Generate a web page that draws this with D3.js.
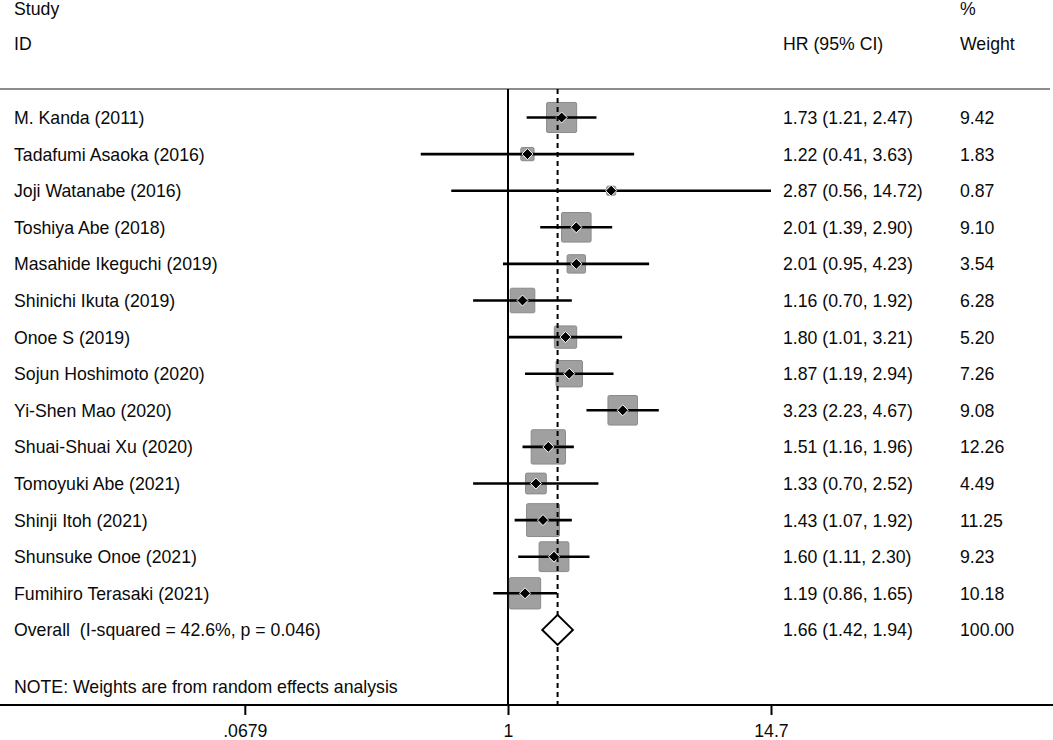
<!DOCTYPE html>
<html>
<head>
<meta charset="utf-8">
<script src="https://cdn.jsdelivr.net/npm/d3@7"></script>
<style>
  html, body { margin: 0; padding: 0; background: #fff; }
  svg text { font-family: "Liberation Sans", Arial, sans-serif; font-size: 17.7px; fill: #0a0a0a; white-space: pre; }
</style>
</head>
<body>
<svg id="chart" width="1053" height="740"></svg>
<script>
const studies = ["M. Kanda (2011)", "Tadafumi Asaoka (2016)", "Joji Watanabe (2016)", "Toshiya Abe (2018)",
  "Masahide Ikeguchi (2019)", "Shinichi Ikuta (2019)", "Onoe S (2019)", "Sojun Hoshimoto (2020)",
  "Yi-Shen Mao (2020)", "Shuai-Shuai Xu (2020)", "Tomoyuki Abe (2021)", "Shinji Itoh (2021)",
  "Shunsuke Onoe (2021)", "Fumihiro Terasaki (2021)"];
const hr     = [1.73, 1.22, 2.87, 2.01, 2.01, 1.16, 1.80, 1.87, 3.23, 1.51, 1.33, 1.43, 1.60, 1.19];
const lower  = [1.21, 0.41, 0.56, 1.39, 0.95, 0.70, 1.01, 1.19, 2.23, 1.16, 0.70, 1.07, 1.11, 0.86];
const upper  = [2.47, 3.63, 14.72, 2.90, 4.23, 1.92, 3.21, 2.94, 4.67, 1.96, 2.52, 1.92, 2.30, 1.65];
const weights = [9.42, 1.83, 0.87, 9.10, 3.54, 6.28, 5.20, 7.26, 9.08, 12.26, 4.49, 11.25, 9.23, 10.18];
const overallLabel = "Overall  (I-squared = 42.6%, p = 0.046)";
const overall = { hr: 1.66, lower: 1.42, upper: 1.94, weight: "100.00" };
const noteText = "NOTE: Weights are from random effects analysis";
const tickValues = [0.0679, 1, 14.7];
const tickLabels = [".0679", "1", "14.7"];

const svg = d3.select("#chart");
const x = d3.scaleLog().domain([1 / 14.7, 14.7]).range([245, 771]);
const rowY = d3.scaleLinear().domain([0, 1]).range([117.5, 154.1]);
const topLineY = 89, axisY = 705;
const colHR = 783, colW = 960, colLabel = 14;

const fmt = v => v.toFixed(2);

// headers
svg.append("text").attr("x", colLabel).attr("y", 15).text("Study");
svg.append("text").attr("x", colLabel).attr("y", 50).text("ID");
svg.append("text").attr("x", colHR).attr("y", 50).text("HR (95% CI)");
svg.append("text").attr("x", colW).attr("y", 15).text("%");
svg.append("text").attr("x", colW).attr("y", 50).text("Weight");

// top separator
svg.append("line").attr("x1", 0).attr("x2", 1050).attr("y1", topLineY).attr("y2", topLineY)
  .attr("stroke", "#8c8c8c").attr("stroke-width", 2);

// null line
svg.append("line").attr("x1", x(1)).attr("x2", x(1)).attr("y1", topLineY).attr("y2", axisY)
  .attr("stroke", "#000").attr("stroke-width", 2);

// boxes
const rows = studies.map((s, i) => ({ s, hr: hr[i], lo: lower[i], hi: upper[i], w: weights[i], i }));
const g = svg.append("g");
g.selectAll("rect.box").data(rows).join("rect").attr("class", "box")
  .attr("x", d => x(d.hr) - 4.9 * Math.sqrt(d.w))
  .attr("y", d => rowY(d.i) - 4.9 * Math.sqrt(d.w))
  .attr("width", d => 9.8 * Math.sqrt(d.w))
  .attr("height", d => 9.8 * Math.sqrt(d.w))
  .attr("rx", 1.5)
  .attr("fill", "#a0a0a0").attr("stroke", "#8a8a8a").attr("stroke-width", 1);

// overall dashed line
svg.append("line").attr("x1", x(overall.hr)).attr("x2", x(overall.hr)).attr("y1", topLineY).attr("y2", axisY)
  .attr("stroke", "#000").attr("stroke-width", 2).attr("stroke-dasharray", "5,4");

// CI lines
g.selectAll("line.ci").data(rows).join("line").attr("class", "ci")
  .attr("x1", d => x(d.lo)).attr("x2", d => x(Math.min(d.hi, 14.7)))
  .attr("y1", d => rowY(d.i)).attr("y2", d => rowY(d.i))
  .attr("stroke", "#000").attr("stroke-width", 2.6);

// point markers
g.selectAll("path.pt").data(rows).join("path").attr("class", "pt")
  .attr("d", d => {
    const cx = x(d.hr), cy = rowY(d.i), r = 5.5;
    return `M${cx},${cy - r}L${cx + r},${cy}L${cx},${cy + r}L${cx - r},${cy}Z`;
  })
  .attr("fill", "#000").attr("stroke", "#fff").attr("stroke-width", 1);

// overall diamond
const oy = rowY(studies.length);
svg.append("path")
  .attr("d", `M${x(overall.lower)},${oy}L${x(overall.hr)},${oy - 15}L${x(overall.upper)},${oy}L${x(overall.hr)},${oy + 15}Z`)
  .attr("fill", "#fff").attr("stroke", "#000").attr("stroke-width", 2);

// text columns
g.selectAll("text.lab").data(rows).join("text").attr("class", "lab")
  .attr("x", colLabel).attr("y", d => rowY(d.i) + 6.5).text(d => d.s);
g.selectAll("text.hr").data(rows).join("text").attr("class", "hr")
  .attr("x", colHR).attr("y", d => rowY(d.i) + 6.5)
  .text(d => `${fmt(d.hr)} (${fmt(d.lo)}, ${fmt(d.hi)})`);
g.selectAll("text.wt").data(rows).join("text").attr("class", "wt")
  .attr("x", colW).attr("y", d => rowY(d.i) + 6.5).text(d => fmt(d.w));

svg.append("text").attr("x", colLabel).attr("y", oy + 6.5).text(overallLabel);
svg.append("text").attr("x", colHR).attr("y", oy + 6.5)
  .text(`${fmt(overall.hr)} (${fmt(overall.lower)}, ${fmt(overall.upper)})`);
svg.append("text").attr("x", colW).attr("y", oy + 6.5).text(overall.weight);

svg.append("text").attr("x", colLabel).attr("y", 692.5).text(noteText);

// axis
svg.append("line").attr("x1", 0).attr("x2", 1053).attr("y1", axisY).attr("y2", axisY)
  .attr("stroke", "#000").attr("stroke-width", 2);
const axis = d3.axisBottom(x).tickValues(tickValues)
  .tickFormat((d, i) => tickLabels[i]).tickSize(10).tickPadding(12);
const ag = svg.append("g").attr("transform", `translate(0,${axisY})`).call(axis);
ag.select(".domain").remove();
ag.selectAll(".tick line").attr("stroke", "#000").attr("stroke-width", 2);
ag.selectAll(".tick text").attr("font-family", "Liberation Sans, Arial, sans-serif")
  .attr("font-size", "17.7px").attr("fill", "#0a0a0a").attr("dy", "0").attr("y", 32);
</script>
</body>
</html>
